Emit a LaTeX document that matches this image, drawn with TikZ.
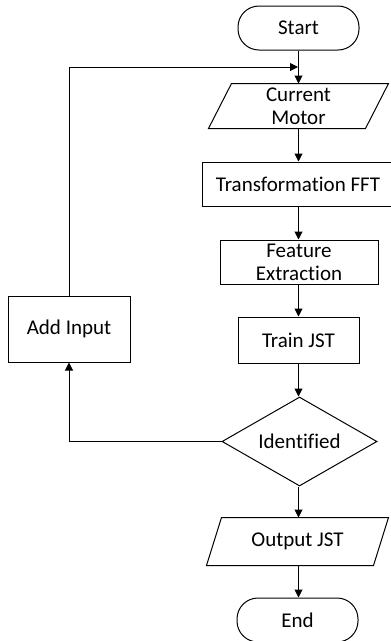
\documentclass[tikz,border=0pt]{standalone}
\usepackage{fontspec}
\setmainfont[Ligatures=NoCommon]{Carlito}
\usetikzlibrary{arrows.meta,shapes.geometric}

\begin{document}
\begin{tikzpicture}[x=1pt,y=-1pt,
  line width=1pt,
  every node/.style={font=\fontsize{21}{23}\selectfont, align=center, inner sep=0pt},
  proc/.style={draw, rectangle, minimum height=44pt},
  term/.style={draw, rectangle, rounded corners=21pt, minimum width=121pt, minimum height=44pt},
  iobox/.style={rectangle, minimum height=44pt},
  decision/.style={draw, diamond, aspect=1.74, minimum width=155pt, minimum height=89pt},
  flow/.style={-{Triangle[length=8pt,width=8pt]}}
]
\useasboundingbox (0,0) rectangle (391,641);

% main column
\node[term]  (start) at (298.5,28) {Start};
\node[iobox, minimum width=156pt] (motor) at (298.5,106) {Current\\Motor};
\node[proc, minimum width=192pt] (fft) at (298,184) {Transformation FFT};
\node[proc, minimum width=158pt] (feat) at (299,262) {Feature\\Extraction};
\node[proc, minimum width=121pt, minimum height=46pt] (train) at (298.5,340) {Train JST};
\node[decision] (ident) at (299.5,441.5) {Identified};
\node[iobox, minimum width=166pt, minimum height=47pt] (out) at (297.5,541.5) {Output JST};
\node[term]  (end) at (297.5,620) {End};

% side branch
\node[proc, minimum width=122pt, minimum height=66pt] (add) at (69,329) {Add Input};

% parallelogram outlines of the input/output steps
\draw ([xshift=11.5pt]motor.north west) -- ([xshift=11.5pt]motor.north east)
   -- ([xshift=-11.5pt]motor.south east) -- ([xshift=-11.5pt]motor.south west) -- cycle;
\draw ([xshift=7.5pt]out.north west) -- ([xshift=7.5pt]out.north east)
   -- ([xshift=-7.5pt]out.south east) -- ([xshift=-7.5pt]out.south west) -- cycle;

% flow down the main column
\draw[flow] (start.south) -- (start.south |- motor.north);
\draw[flow] (motor.south) -- (motor.south |- fft.north);
\draw[flow] (motor.south |- fft.south) -- (motor.south |- feat.north);
\draw[flow] (motor.south |- feat.south) -- (motor.south |- train.north);
\draw[flow] (motor.south |- train.south) -- (motor.south |- ident.north);
\draw[flow] (motor.south |- ident.south) -- (motor.south |- out.north);
\draw[flow] (motor.south |- out.south) -- (motor.south |- end.north);

% loop back through Add Input
\coordinate (join) at (298,67);
\draw[flow] (ident.west) -| (add.south);
\draw[flow] (add.north) |- (join);
\end{tikzpicture}
\end{document}
